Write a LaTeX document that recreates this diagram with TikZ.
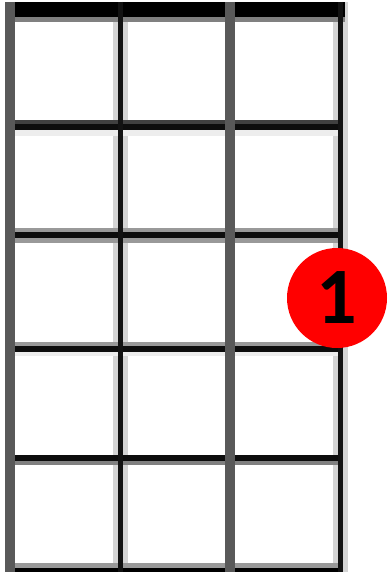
\documentclass[tikz,border=0pt]{standalone}
\usepackage{fontspec}
\setmainfont{Carlito}
\begin{document}
\begin{tikzpicture}[x=1pt,y=-1pt,
  fretline/.style={line width=6pt,black!95},
  fretshade/.style={line width=5pt,black!50},
  stringlight/.style={line width=15pt,black!17},
  stringthin/.style={line width=5pt,black!93},
  stringthick/.style={line width=10pt,black!65},
  finger/.style={circle,fill=red,minimum size=100pt,inner sep=0pt,
    font=\bfseries\fontsize{80}{80}\selectfont}]
\useasboundingbox (0,0) rectangle (388,572);
% string shading
\draw[stringlight] (120,2) -- (120,572);
\draw[stringlight] (340.5,2) -- (340.5,572);
% frets
\draw[line width=15pt,black] (9,9.5) -- (345,9.5);
\draw[fretshade] (9,19.5) -- (345,19.5);
\draw[fretshade,black!75,line width=4pt] (9,122) -- (343,122);
\draw[line width=6pt,black!7] (9,133) -- (343,133);
\draw[fretline] (9,127) -- (343,127);
\draw[fretshade,line width=15pt,black!40] (9,235.5) -- (343,235.5);
\draw[fretline] (9,235) -- (343,235);
\draw[fretshade,line width=4pt,black!40] (9,344) -- (343,344);
\draw[line width=4pt,black!7] (9,353.5) -- (343,353.5);
\draw[fretline] (9,349) -- (343,349);
\draw[fretshade] (9,462.5) -- (343,462.5);
\draw[fretline] (9,457.5) -- (343,457.5);
\draw[fretshade,black!40] (9,565.5) -- (343,565.5);
\draw[line width=5pt,black] (9,570.5) -- (343,570.5);
% strings
\draw[stringthick] (9.5,2) -- (9.5,572);
\draw[stringthin] (120,2) -- (120,572);
\draw[stringthick] (230,2) -- (230,572);
\draw[stringthin] (340.5,2) -- (340.5,572);
% finger
\node[finger] (f1) at (337,298) {1};
\end{tikzpicture}
\end{document}
